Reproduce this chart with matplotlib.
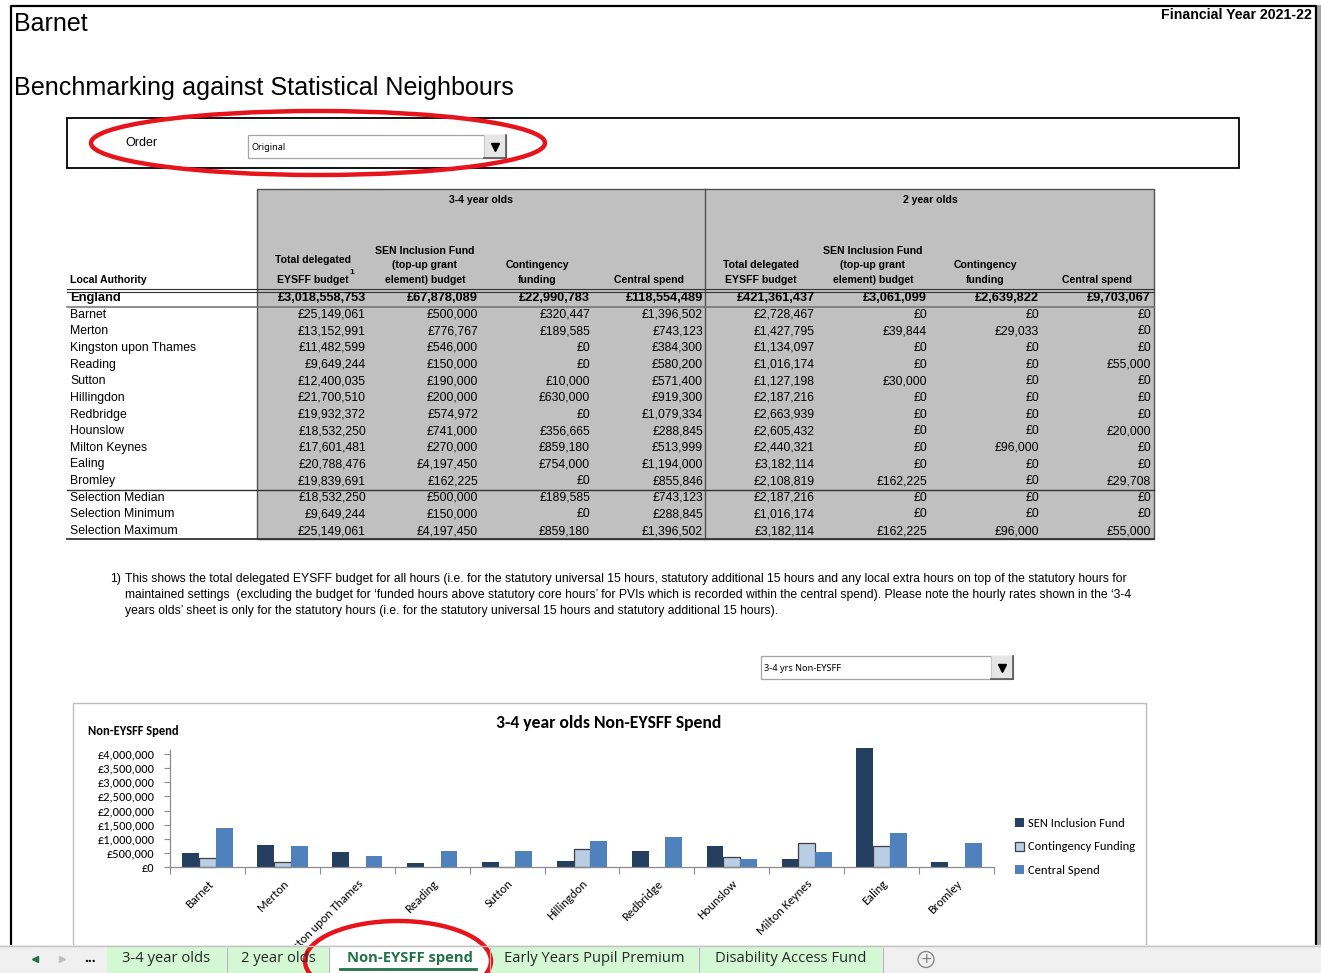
import numpy as np
import matplotlib
matplotlib.use('Agg')
import matplotlib.pyplot as plt
from matplotlib.patches import Rectangle, Ellipse, Circle
from matplotlib import font_manager

W, H = 1321, 973

# Datos de la hoja
authorities = ["Barnet", "Merton", "Kingston upon Thames", "Reading", "Sutton",
               "Hillingdon", "Redbridge", "Hounslow", "Milton Keynes", "Ealing", "Bromley"]
eysff_34 = [25149061, 13152991, 11482599, 9649244, 12400035, 21700510,
            19932372, 18532250, 17601481, 20788476, 19839691]
sen_34 = [500000, 776767, 546000, 150000, 190000, 200000,
          574972, 741000, 270000, 4197450, 162225]
cont_34 = [320447, 189585, 0, 0, 10000, 630000, 0, 356665, 859180, 754000, 0]
central_34 = [1396502, 743123, 384300, 580200, 571400, 919300,
              1079334, 288845, 513999, 1194000, 855846]
eysff_2 = [2728467, 1427795, 1134097, 1016174, 1127198, 2187216,
           2663939, 2605432, 2440321, 3182114, 2108819]
sen_2 = [0, 39844, 0, 0, 30000, 0, 0, 0, 0, 0, 162225]
cont_2 = [0, 29033, 0, 0, 0, 0, 0, 0, 96000, 0, 0]
central_2 = [0, 0, 0, 55000, 0, 0, 0, 20000, 0, 0, 29708]

england = [3018558753, 67878089, 22990783, 118554489, 421361437, 3061099, 2639822, 9703067]
summary_labels = ["Selection Median", "Selection Minimum", "Selection Maximum"]
summary_rows = [
    [18532250, 500000, 189585, 743123, 2187216, 0, 0, 0],
    [9649244, 150000, 0, 288845, 1016174, 0, 0, 0],
    [25149061, 4197450, 859180, 1396502, 3182114, 162225, 96000, 55000],
]

group_names = ["3-4 year olds", "2 year olds"]
column_headers = [["Total delegated", "EYSFF budget"],
                  ["SEN Inclusion Fund", "(top-up grant", "element) budget"],
                  ["Contingency", "funding"],
                  ["Central spend"]]
series_names = ["SEN Inclusion Fund", "Contingency Funding", "Central Spend"]
yticks = [0, 500000, 1000000, 1500000, 2000000, 2500000, 3000000, 3500000, 4000000]
sheet_tabs = ["3-4 year olds", "2 year olds", "Non-EYSFF spend",
              "Early Years Pupil Premium", "Disability Access Fund"]

note_lines = [
    "This shows the total delegated EYSFF budget for all hours (i.e. for the statutory universal 15 hours, "
    "statutory additional 15 hours and any local extra hours on top of the statutory hours for",
    "maintained settings  (excluding the budget for \u2018funded hours above statutory core hours\u2019 for PVIs "
    "which is recorded within the central spend). Please note the hourly rates shown in the \u20183-4",
    "years olds\u2019 sheet is only for the statutory hours (i.e. for the statutory universal 15 hours and "
    "statutory additional 15 hours).",
]

# Fuentes
installed = {f.name for f in font_manager.fontManager.ttflist}
SANS = 'Liberation Sans'
if 'Liberation Sans Narrow' in installed:
    NARROW, BODY_SIZE = 'Liberation Sans Narrow', 10.6
else:
    NARROW, BODY_SIZE = 'Liberation Sans', 8.8
CHART_FONT = 'Carlito' if 'Carlito' in installed else 'Lato'
TAB_FONT = 'Open Sans'


def money(v):
    return f"£{v:,}"


fig = plt.figure(figsize=(W / 100, H / 100), dpi=100)
bg = fig.add_axes([0, 0, 1, 1])
bg.set_xlim(0, W)
bg.set_ylim(H, 0)
bg.axis('off')

# Marco exterior
bg.add_patch(Rectangle((1317, 5), 4, 940, fc='#A6A6A6', ec='none'))
bg.plot([10.5, 10.5, 1316, 1316], [945, 5.5, 5.5, 945], color='black', lw=1.6)

# Títulos
bg.text(14, 24, "Barnet", fontsize=18, family=SANS, va='center')
bg.text(14, 88, "Benchmarking against Statistical Neighbours", fontsize=18.1, family=SANS, va='center')
bg.text(1312, 15, "Financial Year 2021-22", fontsize=10.2, family=SANS, weight='bold',
        ha='right', va='center')

# Caja de orden
bg.add_patch(Rectangle((67, 118), 1172, 50, fc='white', ec='black', lw=1.3))
bg.text(125, 143, "Order", fontsize=9, family=SANS, va='center')


def dropdown(x0, x1, y0, y1, label):
    bg.add_patch(Rectangle((x0, y0), x1 - x0, y1 - y0, fc='white', ec='#A5A5A5', lw=0.9))
    bx = x1 - 22
    bg.add_patch(Rectangle((bx, y0), 22, y1 - y0, fc='#E6E6E6', ec='none'))
    bg.plot([bx, bx], [y0, y1], color='#C8C8C8', lw=0.8)
    bg.plot([x1, x1], [y0, y1], color='#555555', lw=1.2)
    bg.plot([bx, x1], [y1, y1], color='#555555', lw=1.2)
    bg.plot(bx + 11, (y0 + y1) / 2, marker='v', color='black', ms=6)
    bg.text(x0 + 3, (y0 + y1) / 2 + 1, label, fontsize=6.6, family='Noto Sans', va='center')


dropdown(248, 506, 135, 158, "Original")

# Tabla
grey = '#C0C0C0'
bg.add_patch(Rectangle((257, 189), 897, 350, fc=grey, ec='#505050', lw=1))
bg.plot([705, 705], [189, 539], color='#505050', lw=1)

col_right = [366, 478, 590, 703, 815, 927, 1039, 1151]
col_mid = [313, 425, 537, 649, 761, 873, 985, 1097]
group_mid = [481, 930]

for g, name in enumerate(group_names):
    bg.text(group_mid[g], 200, name, fontsize=7.6, family=SANS, weight='bold', ha='center', va='center')
    for c, lines in enumerate(column_headers):
        xm = col_mid[g * 4 + c]
        for k, line in enumerate(reversed(lines)):
            gap = 20 if (g == 0 and c == 0) else 14.5
            bg.text(xm, 280 - k * gap, line, fontsize=7.6, family=SANS, weight='bold',
                    ha='center', va='center')
bg.text(352, 273, "1", fontsize=6, family=SANS, weight='bold', ha='center', va='center')
bg.text(70, 280, "Local Authority", fontsize=7.6, family=SANS, weight='bold', va='center')

# Líneas horizontales de la tabla
bg.plot([67, 1154], [288.8, 288.8], color='#333333', lw=0.8)
bg.plot([67, 1154], [291.6, 291.6], color='#333333', lw=0.8)
bg.plot([67, 1154], [306.8, 306.8], color='#707070', lw=1.1)
bg.plot([67, 1154], [490.2, 490.2], color='#333333', lw=1)
bg.plot([67, 1154], [539, 539], color='#333333', lw=1.3)

row_h = 16.65
bg.text(70, 298, "England", fontsize=9.3, family=SANS, weight='bold', va='center')
for c, v in enumerate(england):
    bg.text(col_right[c], 298, money(v), fontsize=9.2, family=SANS, weight='bold', ha='right', va='center')

body = list(zip(eysff_34, sen_34, cont_34, central_34, eysff_2, sen_2, cont_2, central_2))
for i, name in enumerate(authorities):
    y = 298 + row_h * (i + 1)
    bg.text(70, y, name, fontsize=BODY_SIZE, family=NARROW, va='center')
    for c, v in enumerate(body[i]):
        bg.text(col_right[c], y, money(v), fontsize=BODY_SIZE, family=NARROW, ha='right', va='center')
for j, name in enumerate(summary_labels):
    y = 298 + row_h * (len(authorities) + 1 + j)
    bg.text(70, y, name, fontsize=BODY_SIZE, family=NARROW, va='center')
    for c, v in enumerate(summary_rows[j]):
        bg.text(col_right[c], y, money(v), fontsize=BODY_SIZE, family=NARROW, ha='right', va='center')

# Nota al pie, ajustada al ancho de la primera línea
bg.text(110, 579, "1)", fontsize=BODY_SIZE, family=NARROW, va='center')
probe = bg.text(125, 579, note_lines[0], fontsize=BODY_SIZE, family=NARROW, va='center')
fig.canvas.draw()
note_size = BODY_SIZE * 1000 / probe.get_window_extent().width
probe.remove()
for k, line in enumerate(note_lines):
    bg.text(125, 579 + 16 * k, line, fontsize=note_size, family=NARROW, va='center')

dropdown(761, 1013, 656, 679, "3-4 yrs Non-EYSFF")

# Gráfico
bg.add_patch(Rectangle((73, 703), 1073, 270, fc='white', ec='#BDBDBD', lw=1))
bg.text(609, 723, "3-4 year olds Non-EYSFF Spend", fontsize=12.7, family=CHART_FONT,
        weight='bold', ha='center', va='center')
bg.text(88, 731, "Non-EYSFF Spend", fontsize=9.0, family=CHART_FONT, weight='bold', va='center')

ax = fig.add_axes([170 / W, 1 - 867 / H, (994 - 170) / W, (867 - 754) / H])
ax.patch.set_alpha(0)
x = np.arange(len(authorities))
bw = 0.224
ax.bar(x - bw, sen_34, bw, color='#243F60', label=series_names[0], clip_on=False)
ax.bar(x, cont_34, bw, color='#B9CDE5', edgecolor='#3F3F3F',
       linewidth=[0.9 if v > 0 else 0 for v in cont_34], label=series_names[1], clip_on=False)
ax.bar(x + bw, central_34, bw, color='#4F81BD', label=series_names[2], clip_on=False)

ax.set_xlim(-0.5, len(authorities) - 0.5)
ax.set_ylim(0, max(yticks))
ax.set_yticks(yticks)
ax.set_yticklabels([money(v) for v in yticks], family=CHART_FONT, fontsize=8.9)
ax.set_xticks(x)
ax.set_xticklabels(authorities, family=CHART_FONT, fontsize=8.9, rotation=45,
                   ha='right', va='top', rotation_mode='anchor')
ax.set_xticks(np.arange(-0.5, len(authorities)), minor=True)
ax.tick_params(axis='x', which='major', length=0, pad=8)
ax.tick_params(axis='x', which='minor', length=5, color='#8C8C8C', width=0.8)
ax.tick_params(axis='y', length=4, color='#8C8C8C', width=0.8, pad=7)
for side in ['top', 'right']:
    ax.spines[side].set_visible(False)
for side in ['left', 'bottom']:
    ax.spines[side].set_color('#8C8C8C')
    ax.spines[side].set_linewidth(0.9)
ax.spines['left'].set_bounds(0, 4150000)

ax.legend(loc='center left', bbox_to_anchor=(1010 / W, 1 - 847 / H), bbox_transform=fig.transFigure,
          frameon=False, prop={'family': CHART_FONT, 'size': 9.0}, handlelength=0.7,
          handleheight=0.7, handletextpad=0.3, labelspacing=1.0, borderaxespad=0)

# Barra de pestañas y marcas rojas
fg = fig.add_axes([0, 0, 1, 1], zorder=5)
fg.set_xlim(0, W)
fg.set_ylim(H, 0)
fg.axis('off')
fg.patch.set_alpha(0)

fg.add_patch(Rectangle((0, 945), W, 28, fc='#F0F0F0', ec='none'))
fg.plot([0, W], [945.5, 945.5], color='#C3C3C3', lw=1)
tab_edges = [(107, 226), (228, 328), (330, 489), (491, 698), (700, 882)]
active = 2
for k, (name, (x0, x1)) in enumerate(zip(sheet_tabs, tab_edges)):
    if k == active:
        fg.add_patch(Rectangle((x0, 946), x1 - x0, 27, fc='white', ec='none'))
        fg.text((x0 + x1) / 2, 958, name, fontsize=10.6, family=TAB_FONT, weight='bold',
                color='#217346', ha='center', va='center')
        fg.plot([x0 + 10, x1 - 13], [968.5, 968.5], color='#217346', lw=2)
    else:
        fg.add_patch(Rectangle((x0, 947), x1 - x0, 26, fc='#D4F7D4', ec='none'))
        fg.text((x0 + x1) / 2, 958, name, fontsize=10.6, family=TAB_FONT,
                color='#262626', ha='center', va='center')
    fg.plot([x1 + 1, x1 + 1], [948, 972], color='#B5B5B5', lw=0.8)
fg.plot(35, 959, marker='<', color='#217346', ms=4.5)
fg.plot(62, 959, marker='>', color='#C0C0C0', ms=4.5)
fg.text(90, 958, "...", fontsize=10, family=TAB_FONT, weight='bold', ha='center', va='center')
fg.add_patch(Circle((926, 959.5), 8, fc='none', ec='#8A8A8A', lw=1))
fg.text(926, 959, "+", fontsize=10, family='DejaVu Sans', color='#777777', ha='center', va='center')

fg.add_patch(Ellipse((318, 143), 454, 64, fc='none', ec='#E8141B', lw=3.2))
fg.add_patch(Ellipse((398, 961), 186, 80, fc='none', ec='#E8141B', lw=3.2))

fig.savefig('out.png', dpi=100)
